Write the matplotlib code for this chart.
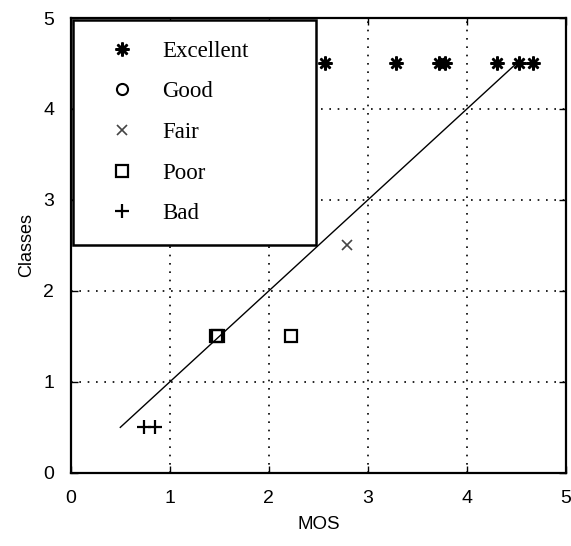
import matplotlib
matplotlib.use('Agg')
import matplotlib.pyplot as plt

# MOS value vs. assigned class, one list pair per class
exc_mos = [2.57, 3.28, 3.72, 3.78, 4.30, 4.53, 4.67]
exc_cls = [4.5, 4.5, 4.5, 4.5, 4.5, 4.5, 4.5]
good_mos = []
good_cls = []
fair_mos = [2.79]
fair_cls = [2.5]
poor_mos = [1.47, 1.49, 2.22]
poor_cls = [1.5, 1.5, 1.5]
bad_mos = [0.74, 0.85]
bad_cls = [0.5, 0.5]

# ideal mapping line
fit_x = [0.5, 4.5]
fit_y = [0.5, 4.5]

plt.rcParams['font.family'] = 'Liberation Sans'

fig = plt.figure(figsize=(5.71, 5.46), dpi=100)
ax = fig.add_axes([0.124, 0.134, 0.867, 0.833])

ax.plot(fit_x, fit_y, color='black', lw=1.0, label='_nolegend_')
ast = (8, 2, 0)
ax.plot(exc_mos, exc_cls, ls='none', marker=ast, ms=10, mec='black', mew=1.8, label='Excellent')
ax.plot(good_mos, good_cls, ls='none', marker='o', ms=8, mfc='none', mec='black', mew=1.5, label='Good')
ax.plot(fair_mos, fair_cls, ls='none', marker='x', ms=7, mec='#444444', mew=1.2, label='Fair')
ax.plot(poor_mos, poor_cls, ls='none', marker='s', ms=9, mfc='none', mec='black', mew=1.6, label='Poor')
ax.plot(bad_mos, bad_cls, ls='none', marker='+', ms=10, mec='black', mew=1.6, label='Bad')

ax.set_xlim(0, 5)
ax.set_ylim(0, 5)
ax.set_xticks([0, 1, 2, 3, 4, 5])
ax.set_yticks([0, 1, 2, 3, 4, 5])
ax.grid(True, color='black', lw=1.2, linestyle=(0, (1, 4)))
ax.tick_params(direction='in', length=5, width=1, top=True, right=True,
               labelsize=14, pad=12)
for s in ax.spines.values():
    s.set_linewidth(1.6)

ax.set_xlabel('MOS', fontsize=13.5, labelpad=7)
ax.set_ylabel('Classes', fontsize=13, labelpad=6)

leg = ax.legend(loc='upper left', bbox_to_anchor=(0.004, 0.5, 0.492, 0.495),
                mode='expand', fancybox=False, framealpha=1,
                edgecolor='black', prop={'family': 'Liberation Serif', 'size': 16.5},
                borderpad=0.9, labelspacing=0.85, handlelength=2.46,
                handletextpad=0.55, borderaxespad=0)
leg.get_frame().set_linewidth(1.8)

fig.savefig('out.png', dpi=100)
